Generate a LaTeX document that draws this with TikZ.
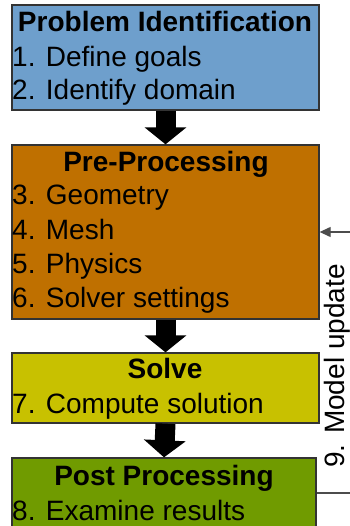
\documentclass[tikz,border=0pt]{standalone}
\usepackage{fontspec}
\setmainfont{Liberation Sans}
\usetikzlibrary{arrows.meta}
\definecolor{cblue}{HTML}{6E9FCC}
\definecolor{corange}{HTML}{BF7000}
\definecolor{cyellow}{HTML}{C8C100}
\definecolor{cgreen}{HTML}{709B00}
\definecolor{cborder}{HTML}{333333}
\begin{document}
\begin{tikzpicture}[x=1pt,y=-1pt,
  box/.style={draw=cborder, line width=1.3pt, minimum width=307pt, inner sep=0pt},
  txt/.style={anchor=base west, inner sep=0pt, font=\fontsize{28}{33}\selectfont},
  ttl/.style={anchor=base, inner sep=0pt, font=\fontsize{28}{33}\selectfont\bfseries},
  bigarrow/.style={line width=20pt, black, -{Triangle[width=41pt,length=17pt]}},
  fb/.style={draw=gray!60!black, line width=1.2pt}
]
\useasboundingbox (0,0) rectangle (349,526);
\fill[white] (0,0) rectangle (349,526);
% boxes
\node[box, fill=cblue, minimum height=105pt] (b1) at (165.5,57.5) {};
\node[box, fill=corange, minimum height=174pt] (b2) at (165.5,232) {};
\node[box, fill=cyellow, minimum height=70pt] (b3) at (165.5,388) {};
\node[box, fill=cgreen, minimum width=304pt, minimum height=70pt] (b4) at (164,493) {};
% texts
\node[ttl] (t1) at (165,32) {Problem Identification};
\node[txt] (t1a) at (12,67) {1. Define goals};
\node[txt] (t1b) at (12,100) {2. Identify domain};
\node[ttl] (t2) at (166,172) {Pre-Processing};
\node[txt] (t2a) at (12,205) {3. Geometry};
\node[txt] (t2b) at (12,240) {4. Mesh};
\node[txt] (t2c) at (12,273) {5. Physics};
\node[txt] (t2d) at (12,307) {6. Solver settings};
\node[ttl] (t3) at (165,378) {Solve};
\node[txt] (t3a) at (12,413) {7. Compute solution};
\node[ttl] (t4) at (164,485) {Post Processing};
\node[txt] (t4a) at (12,520) {8. Examine results};
% block arrows
\draw[bigarrow] (b1.south) -- (b2.north);
\draw[bigarrow] (b2.south) -- (b3.north);
\draw[bigarrow] (b3.south) -- (b4.north);
% feedback
\coordinate (c1) at (352,493);
\coordinate (c2) at (352,232);
\draw[fb, -{Triangle[length=11pt,width=10pt]}] (b4.east) -- (c1) -- (c2) -- (b2.east);
\node[rotate=90, inner sep=0pt, font=\fontsize{28}{33}\selectfont] (lbl) at (337,366) {9. Model update};
\end{tikzpicture}
\end{document}
